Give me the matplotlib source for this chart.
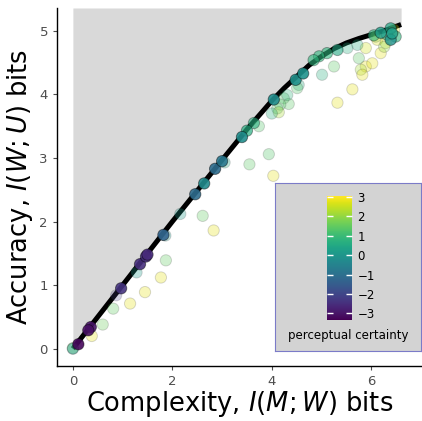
import numpy as np
import matplotlib
matplotlib.use("Agg")
import matplotlib.pyplot as plt
from matplotlib.colors import Normalize

# optimal frontier
curve_x = [0.0, 1.0, 2.0, 3.0, 3.5, 4.0, 4.25, 4.5, 4.75, 5.0, 5.25, 5.5, 5.75,
           6.0, 6.25, 6.6]
curve_y = [0.0, 1.0, 2.0, 2.97, 3.45, 3.9, 4.1, 4.28, 4.46, 4.6, 4.72, 4.81, 4.88,
           4.94, 5.0, 5.1]

# systems: complexity, accuracy, perceptual certainty, opacity weight
comp = [0.0, 0.0, 0.11, 0.38, 0.31, 0.36, 0.60, 0.81, 0.87, 0.97, 1.15, 1.45,
        1.28, 1.35, 1.50, 1.47, 1.77, 1.87, 1.82, 1.86, 2.16, 2.61, 2.83, 2.46,
        2.64, 2.86, 3.00, 3.05, 3.55, 3.94, 4.03, 3.40, 3.50, 3.64, 3.74, 4.00,
        4.04, 4.11, 4.14, 4.17, 4.24, 4.34, 4.31, 4.48, 4.54, 4.51, 4.63, 5.01,
        5.32, 4.84, 4.95, 5.11, 5.25, 5.32, 5.52, 5.72, 5.75, 5.79, 5.82, 5.89,
        6.02, 5.62, 5.89, 6.12, 6.19, 6.32, 6.39, 6.42, 6.26, 6.19, 6.29, 6.46,
        6.49, 6.05, 6.09, 6.39]
acc = [0.0, 0.01, 0.07, 0.20, 0.29, 0.34, 0.38, 0.63, 0.84, 0.95, 0.71, 0.89,
       1.20, 1.33, 1.48, 1.45, 1.12, 1.39, 1.79, 1.78, 2.12, 2.09, 1.86, 2.43,
       2.60, 2.83, 2.95, 2.93, 2.90, 3.06, 2.72, 3.33, 3.43, 3.55, 3.50, 3.70,
       3.92, 3.78, 3.72, 3.84, 3.94, 3.85, 3.99, 4.23, 4.15, 4.10, 4.33, 4.31,
       3.87, 4.54, 4.60, 4.65, 4.44, 4.70, 4.73, 4.78, 4.57, 4.39, 4.31, 4.44,
       4.49, 4.08, 4.73, 4.86, 4.97, 4.94, 4.86, 4.96, 4.75, 4.65, 4.81, 5.02,
       4.91, 4.93, 4.91, 5.04]
certainty = [0.1, 1.8, -3.2, 2.8, -3.1, -3.0, 1.6, 1.5, -2.2, -2.4, 2.8, 2.8,
             0.1, -2.5, -2.6, -2.5, 2.8, 1.5, -1.3, 0.0, 0.1, 1.5, 2.8, -1.1,
             -0.3, -1.1, -0.8, 0.5, 1.4, 1.3, 2.8, -0.2, 0.6, 0.7, 1.3, 0.6,
             -0.2, 1.3, 2.2, 1.3, 1.3, 1.4, 0.8, -0.1, 0.6, 1.3, -0.1, 0.7,
             2.8, 0.8, 0.8, 0.8, 1.4, 0.5, 0.6, 0.6, 1.4, 2.2, 2.8, 2.8,
             2.8, 2.8, 2.6, 2.7, 0.2, 0.8, -0.1, 0.2, 2.0, 2.8, 2.6, 2.7,
             0.8, 0.8, 2.0, 0.4]
weight = [0.5, 0.3, 0.9, 0.3, 0.9, 0.9, 0.3, 0.3, 0.25, 0.9, 0.3, 0.3,
          0.3, 0.9, 0.9, 0.9, 0.3, 0.3, 0.9, 0.3, 0.3, 0.3, 0.3, 0.9,
          0.9, 0.9, 0.9, 0.3, 0.3, 0.3, 0.3, 0.9, 0.7, 0.6, 0.3, 0.3,
          0.9, 0.3, 0.3, 0.3, 0.3, 0.3, 0.3, 0.9, 0.3, 0.3, 0.9, 0.3,
          0.3, 0.6, 0.6, 0.6, 0.3, 0.6, 0.3, 0.3, 0.3, 0.3, 0.3, 0.3,
          0.3, 0.3, 0.3, 0.3, 0.8, 0.6, 0.8, 0.8, 0.3, 0.3, 0.3, 0.3,
          0.6, 0.6, 0.3, 0.7]

cb_ticks = [-3, -2, -1, 0, 1, 2, 3]

norm = Normalize(vmin=-3.35, vmax=3.05)
cmap = plt.get_cmap("viridis")

fig = plt.figure(figsize=(4.22, 4.21), dpi=100)
ax = fig.add_axes([0.135, 0.131, 0.865, 0.85])

top = 5.36
ax.fill_between(curve_x, curve_y, top, color="#d9d9d9", lw=0, zorder=0)
ax.plot(curve_x, curve_y, color="black", lw=3.6, solid_capstyle="butt",
        solid_joinstyle="round", zorder=1)

cols = cmap(norm(np.array(certainty)))
face = cols.copy()
face[:, 3] = weight
edge = np.zeros_like(cols)
edge[:, 3] = np.array(weight) * 0.5
order = np.argsort(weight)
ax.scatter(np.array(comp)[order], np.array(acc)[order], s=66,
           facecolors=face[order], edgecolors=edge[order], linewidths=0.7, zorder=2)

ax.set_xlim(-0.32, 7.02)
ax.set_ylim(-0.27, top)
ax.set_xticks([0, 2, 4, 6])
ax.set_yticks([0, 1, 2, 3, 4, 5])
for s in ["top", "right"]:
    ax.spines[s].set_visible(False)
for s in ["left", "bottom"]:
    ax.spines[s].set_linewidth(1.0)
    ax.spines[s].set_color("black")
ax.tick_params(colors="#4d4d4d", labelsize=9.5, length=3, width=0.8)
ax.set_xlabel(r"Complexity, $I(M;W)$ bits", fontsize=18.5, labelpad=1)
ax.set_ylabel(r"Accuracy, $I(W;U)$ bits", fontsize=18.5, labelpad=3)

# legend box
box = fig.add_axes([0.652, 0.166, 0.345, 0.399])
box.set_facecolor("#d3d3d3")
box.set_xticks([])
box.set_yticks([])
for s in box.spines.values():
    s.set_color("#7b7bc8")
    s.set_linewidth(0.8)

cax = fig.add_axes([0.775, 0.240, 0.059, 0.294])
sm = plt.cm.ScalarMappable(norm=norm, cmap=cmap)
cb = fig.colorbar(sm, cax=cax, ticks=cb_ticks)
cb.outline.set_visible(False)
cax.set_yticklabels([str(t).replace("-", "\u2212") for t in cb_ticks])
cax.tick_params(axis="y", direction="in", colors="white", length=4, width=1,
                left=True, right=True, labelcolor="black", labelsize=8.5, pad=4)
fig.text(0.825, 0.202, "perceptual certainty", fontsize=8.5, ha="center", va="center")

fig.savefig("out.png", dpi=100)
